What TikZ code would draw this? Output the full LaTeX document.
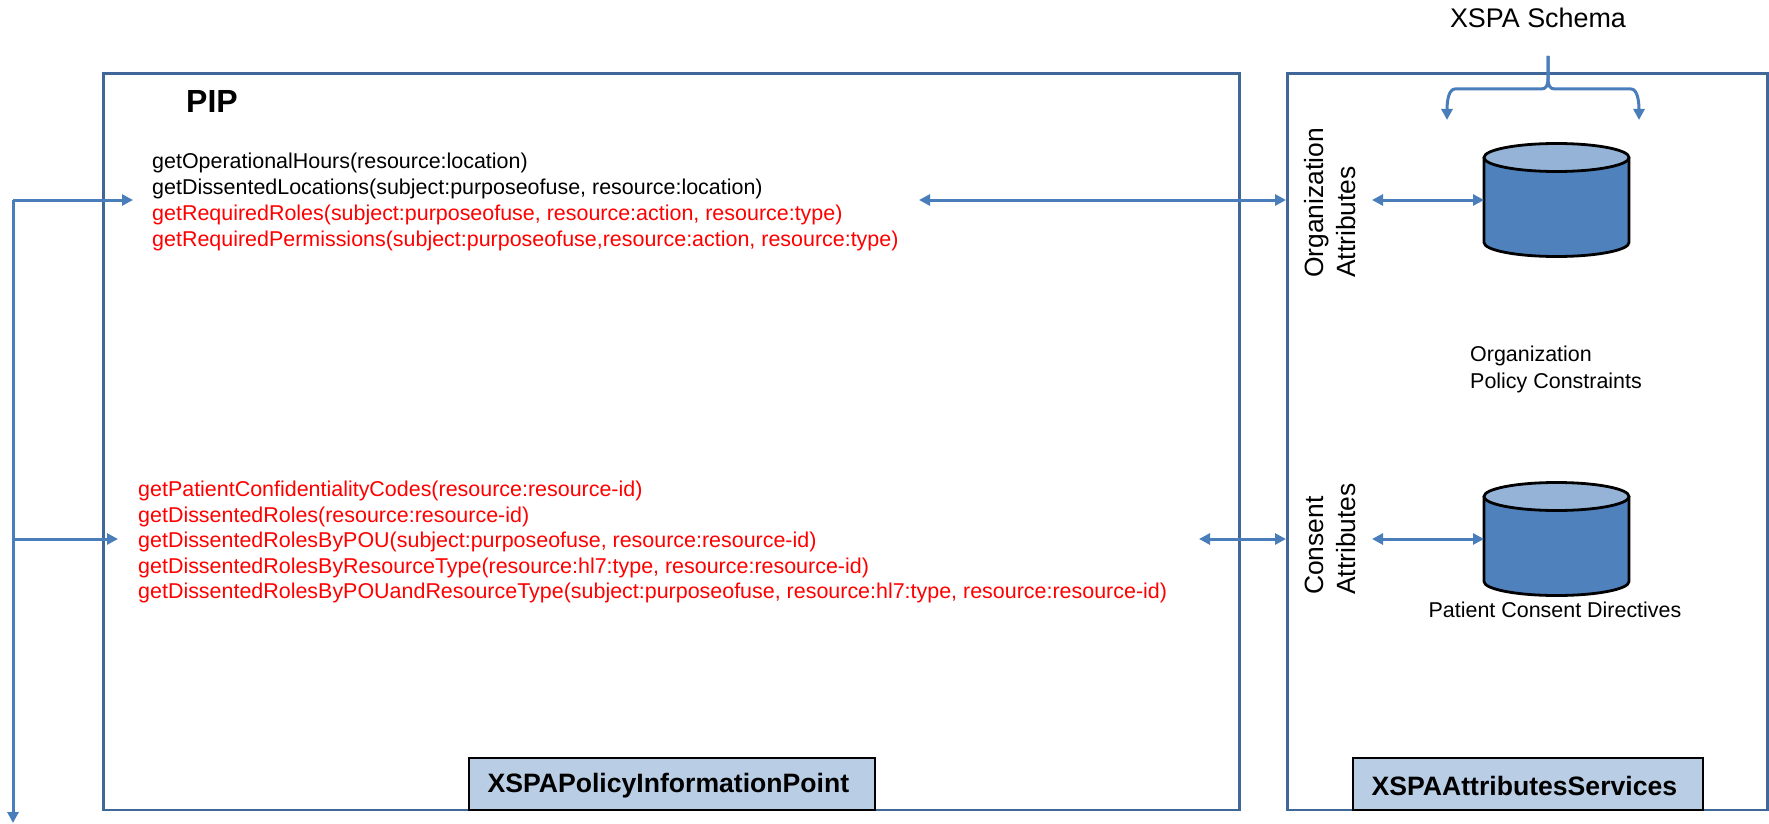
\documentclass[tikz,border=0pt]{standalone}
\usepackage{fontspec}
\setmainfont{Liberation Sans}
\usetikzlibrary{arrows.meta}
\definecolor{boxline}{HTML}{3F6797}
\definecolor{conn}{HTML}{4A7EBB}
\definecolor{cylbody}{HTML}{4F81BD}
\definecolor{cyltop}{HTML}{95B3D7}
\definecolor{tagfill}{HTML}{B9CDE5}
\definecolor{redtext}{HTML}{FF0000}
\tikzset{
  x=1pt,y=-1pt,
  region/.style={draw=boxline,line width=2.8pt,fill=none},
  tagbox/.style={draw=black,line width=2.8pt,fill=tagfill,font=\fontsize{26.6}{30}\selectfont\bfseries,inner sep=0pt,anchor=north west},
  conline/.style={draw=conn,line width=3pt},
  oneway/.style={conline,-{Triangle[length=11pt,width=11pt]}},
  twoway/.style={conline,{Triangle[length=11pt,width=11pt]}-{Triangle[length=11pt,width=11pt]}},
  methods/.style={font=\fontsize{21.45}{26}\selectfont,align=left,inner sep=0pt,anchor=north west},
  plain/.style={font=\fontsize{21.45}{26.8}\selectfont,align=left,inner sep=0pt},
  sidelabel/.style={font=\fontsize{26.4}{32}\selectfont,align=left,inner sep=0pt,rotate=90},
  cylslot/.style={minimum width=145pt,minimum height=113pt,inner sep=0pt,outer sep=0pt},
}
\newcommand{\drawdb}[1]{%
  \fill[cylbody] (#1.north west) ++(0,14) -- ++(0,85) arc[x radius=72.5,y radius=-14,start angle=180,end angle=360] -- ++(0,-85) -- cycle;
  \draw[black,line width=2.8pt,line join=round] (#1.north west) ++(0,14) -- ++(0,85) arc[x radius=72.5,y radius=-14,start angle=180,end angle=360] -- ++(0,-85);
  \draw[black,line width=2.8pt,fill=cyltop] (#1.north) ++(0,14) ellipse[x radius=72.5,y radius=14];
}
\newcommand{\tagtext}[1]{\makebox[0pt]{\hspace*{-7pt}\raisebox{-2pt}[\height][\depth]{#1}}}
\begin{document}
\begin{tikzpicture}
\useasboundingbox (0,0) rectangle (1769,824);
% regions
\node[region,minimum width=1136pt,minimum height=736pt,inner sep=0pt,anchor=north west] (pip) at (102,72.5) {};
\node[region,minimum width=480pt,minimum height=736pt,inner sep=0pt,anchor=north west] (attr) at (1286,72.5) {};
% databases
\node[cylslot] (db1) at (1556.5,200) {};
\node[cylslot] (db2) at (1556.5,539) {};
\drawdb{db1}
\drawdb{db2}
% tags
\node[tagbox,minimum width=406pt,minimum height=52pt] (tag1) at (467.5,756.5) {\tagtext{XSPAPolicyInformationPoint}};
\node[tagbox,minimum width=350pt,minimum height=52pt] (tag2) at (1351.5,756.5) {\tagtext{XSPAAttributesServices}};
% texts
\node[font=\fontsize{32}{36}\selectfont\bfseries,inner sep=0pt,anchor=base west] (piptitle) at (186,113) {PIP};
\node[font=\fontsize{26.9}{30}\selectfont,inner sep=0pt,anchor=base] (schema) at (1538,28) {XSPA Schema};
\node[methods] (m1) at (152,153) {getOperationalHours(resource:location)\\
getDissentedLocations(subject:purposeofuse, resource:location)\\
\textcolor{redtext}{getRequiredRoles(subject:purposeofuse, resource:action, resource:type)}\\
\textcolor{redtext}{getRequiredPermissions(subject:purposeofuse,resource:action, resource:type)}};
\node[methods,text=redtext,font=\fontsize{21.45}{25.5}\selectfont] (m2) at (138,481) {getPatientConfidentialityCodes(resource:resource-id)\\
getDissentedRoles(resource:resource-id)\\
getDissentedRolesByPOU(subject:purposeofuse, resource:resource-id)\\
getDissentedRolesByResourceType(resource:hl7:type, resource:resource-id)\\
getDissentedRolesByPOUandResourceType(subject:purposeofuse, resource:hl7:type, resource:resource-id)};
\node[sidelabel,anchor=south west] (orgattr) at (1356,278) {Organization\\Attributes};
\node[sidelabel,anchor=south west] (conattr) at (1356,595) {Consent\\Attributes};
\node[plain,anchor=north west] (orgpol) at (1470,345.5) {Organization\\Policy Constraints};
\node[plain,anchor=north] (consent) at (1555,602) {Patient Consent Directives};
% connector anchors
\coordinate (a1) at (919,200);
\coordinate (a2) at (1199,539);
\coordinate (trunk1) at (13,200);
\coordinate (trunk2) at (13,539);
\coordinate (trunkend) at (13,823);
\coordinate (in1) at (133,200);
\coordinate (in2) at (118,539);
\coordinate (attrw1) at (attr.west |- a1);
\coordinate (attrw2) at (attr.west |- a2);
\coordinate (o1) at (1372,200);
\coordinate (o2) at (1372,539);
\coordinate (stem) at (1548,56);
\coordinate (brl) at (1447,120);
\coordinate (brr) at (1639,120);
% connectors
\draw[twoway] (a1) -- (attrw1);
\draw[twoway] (a2) -- (attrw2);
\draw[twoway] (o1) -- (db1.west);
\draw[twoway] (o2) -- (db2.west);
\draw[oneway] (trunk1) -- (in1);
\draw[oneway] (trunk1) -- (trunkend);
\draw[oneway] (trunk2) -- (in2);
\draw[oneway] (stem) -- ++(0,22) .. controls (1548,86) and (1546,89) .. (1541,89) -- (1455,89) .. controls (1449,89) and (1447,100) .. (brl);
\draw[oneway] (stem) -- ++(0,22) .. controls (1548,86) and (1550,89) .. (1555,89) -- (1631,89) .. controls (1637,89) and (1639,100) .. (brr);
\end{tikzpicture}
\end{document}
